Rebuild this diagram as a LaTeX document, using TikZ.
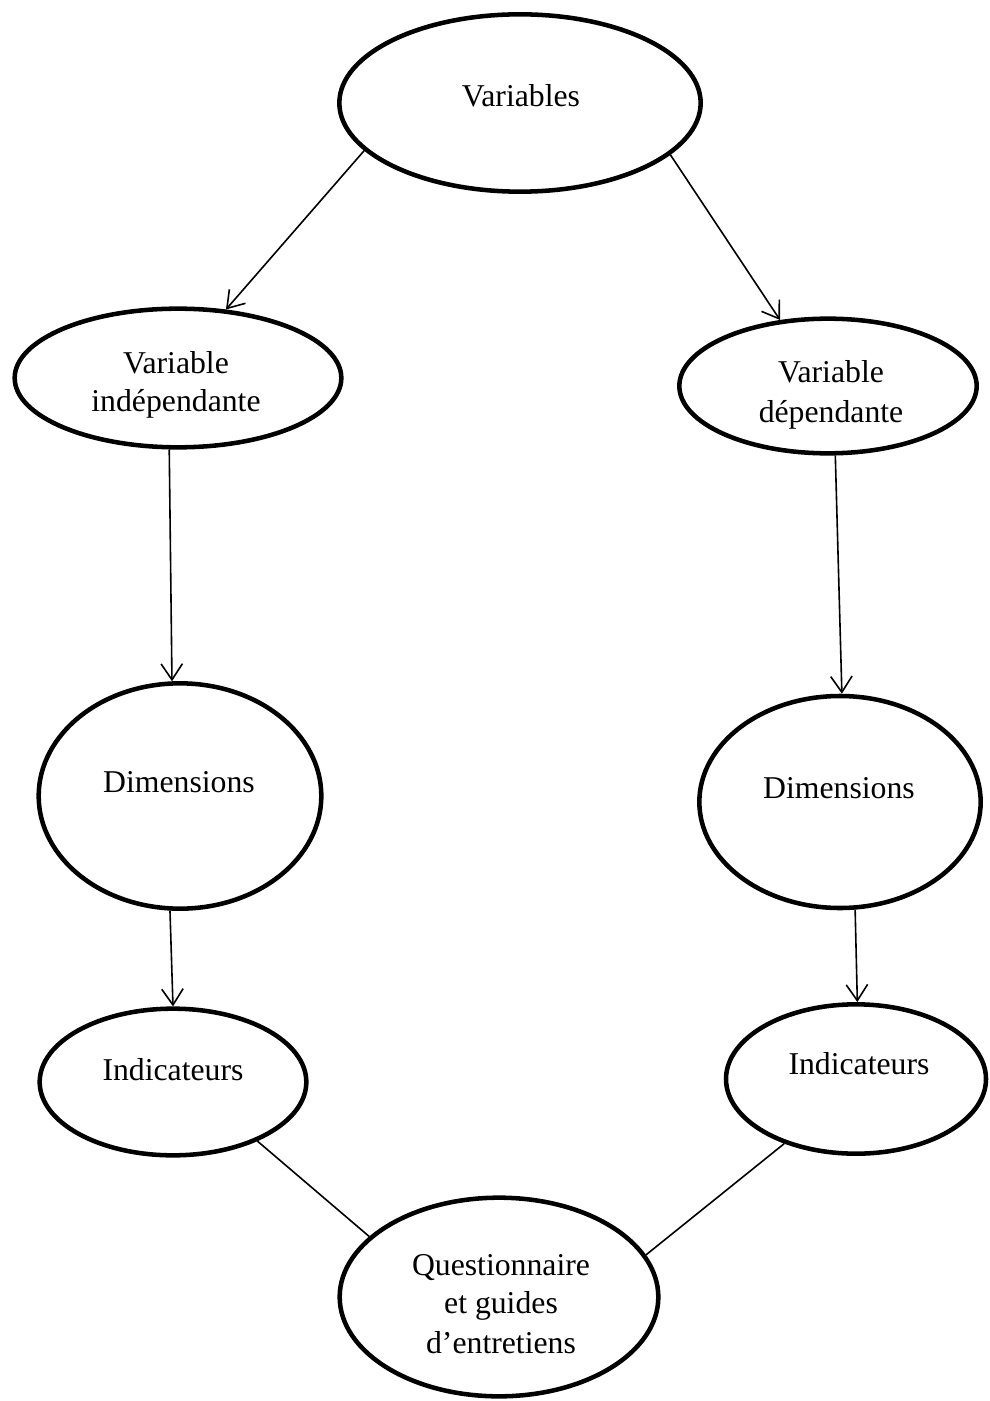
\documentclass[tikz,border=0pt]{standalone}
\usepackage{fontspec}
\setmainfont{Liberation Serif}
\usetikzlibrary{shapes.geometric,arrows.meta}
\tikzset{
  oval/.style={ellipse, draw, line width=3.4pt, inner sep=0pt},
  lbl/.style={anchor=base, font=\fontsize{23.8}{29}\selectfont, inner sep=0pt},
  arr/.style={line width=1.2pt, -{Straight Barb[length=12pt,width=16pt,line width=1.2pt]}},
  lnk/.style={line width=1.2pt}
}
\begin{document}
\begin{tikzpicture}[x=0.75pt,y=-0.75pt]
\useasboundingbox (0,0) rectangle (989,1401);
% ellipses
\node[oval, minimum width=271pt, minimum height=133pt] (v) at (520,103) {};
\node[oval, minimum width=245pt, minimum height=104pt] (vi) at (178,378) {};
\node[oval, minimum width=223pt, minimum height=101pt] (vd) at (828,386) {};
\node[oval, minimum width=212pt, minimum height=169pt] (dl) at (180,796) {};
\node[oval, minimum width=211pt, minimum height=159pt] (dr) at (840,802) {};
\node[oval, minimum width=200pt, minimum height=110pt] (il) at (173,1082) {};
\node[oval, minimum width=195pt, minimum height=112pt] (ir) at (856,1079) {};
\node[oval, minimum width=239pt, minimum height=149pt] (q) at (499,1297) {};
% texts
\node[lbl] (tv) at (521,107) {Variables};
\node[lbl] (tvi1) at (176,373) {Variable};
\node[lbl] (tvi2) at (176,411) {indépendante};
\node[lbl] (tvd1) at (831,382) {Variable};
\node[lbl] (tvd2) at (831,422) {dépendante};
\node[lbl] (tdl) at (179,792) {Dimensions};
\node[lbl] (tdr) at (839,798) {Dimensions};
\node[lbl] (til) at (173,1080) {Indicateurs};
\node[lbl] (tir) at (859,1074) {Indicateurs};
\node[lbl] (tq1) at (501,1275) {Questionnaire};
\node[lbl] (tq2) at (501,1313) {et guides};
\node[lbl] (tq3) at (501,1353) {d’entretiens};
% connectors
\draw[arr] (v.197.5) -- (vi.55.4);
\draw[arr] (v.341.7) -- (vd.126.5);
\draw[arr] (vi.263.3) -- (dl.94);
\draw[arr] (vd.276.6) -- (dr.89.5);
\draw[arr] (dl.265) -- (il.90.8);
\draw[arr] (dr.278.4) -- (ir.89.2);
\draw[lnk] (il.325.4) -- (q.155.6);
\draw[lnk] (ir.222.9) -- (q.16.6);
\end{tikzpicture}
\end{document}
